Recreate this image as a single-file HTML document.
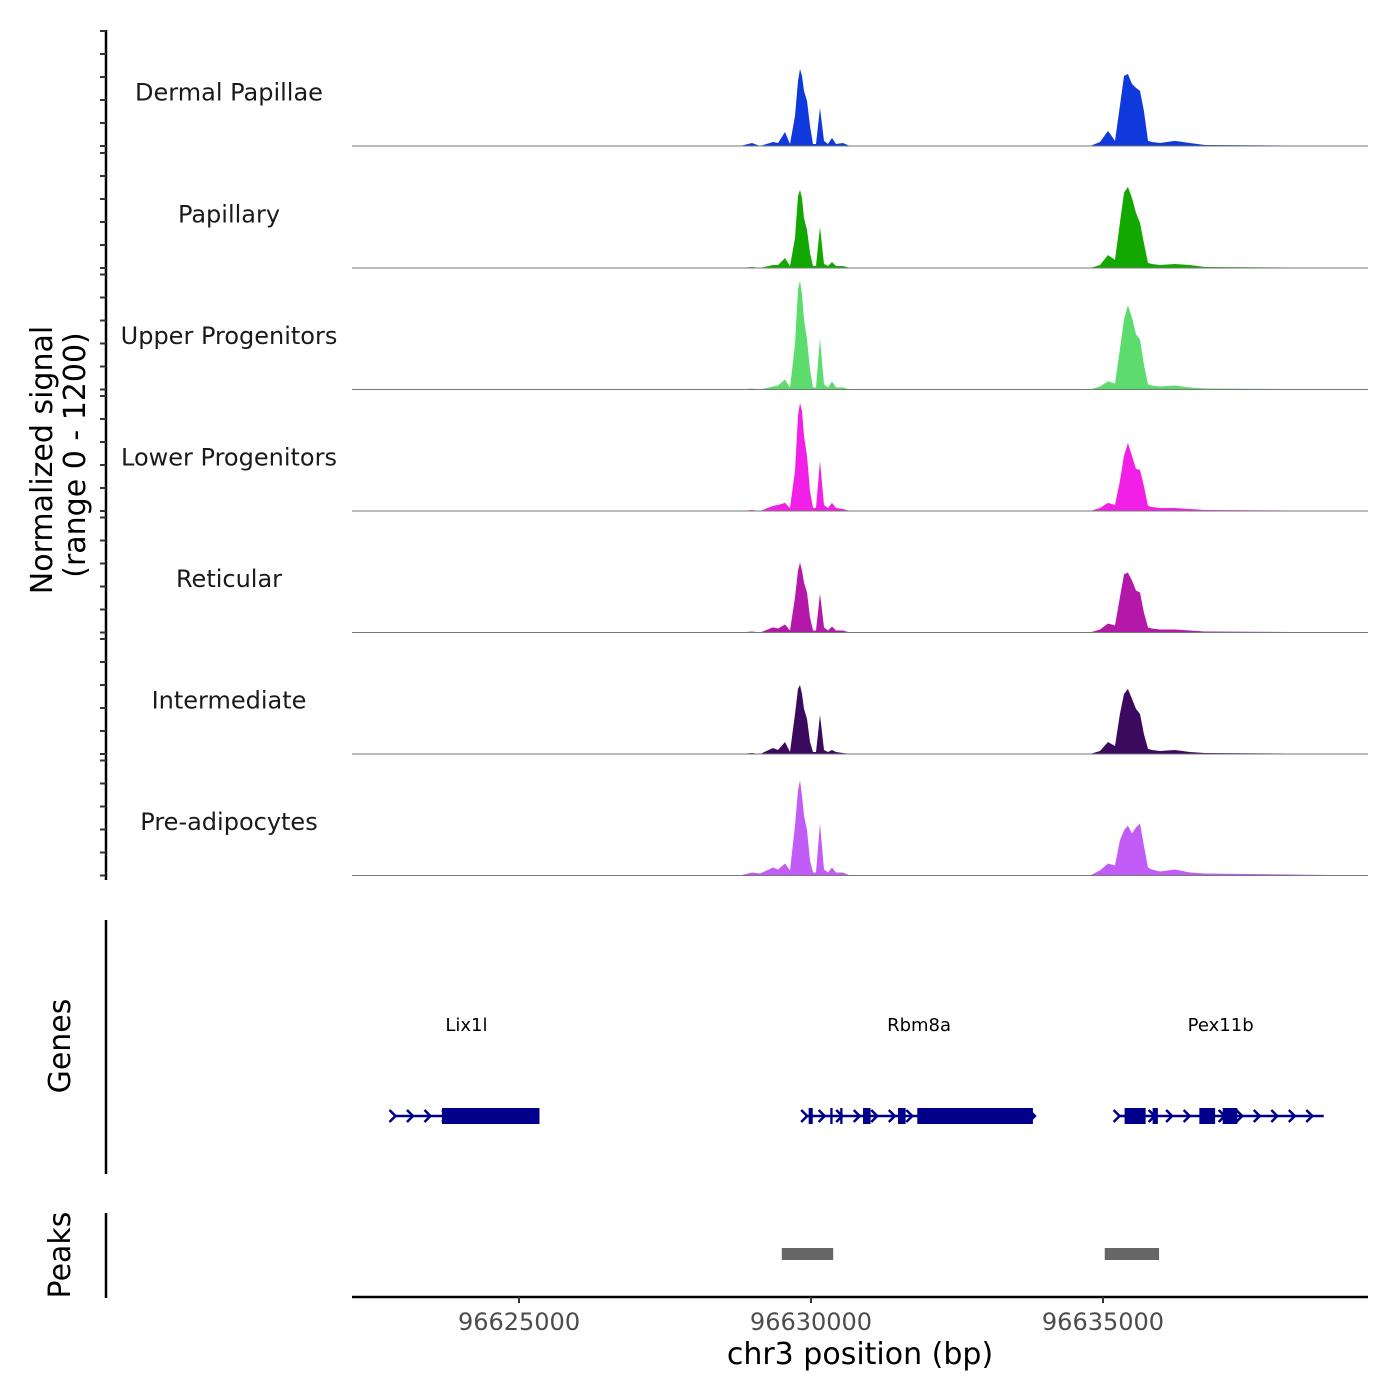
<!DOCTYPE html>
<html><head><meta charset="utf-8">
<style>
html,body{margin:0;padding:0;background:#fff;}
svg{display:block;font-family:"DejaVu Sans","Liberation Sans",sans-serif;}
</style></head>
<body>
<svg id="chart" width="1400" height="1400" viewBox="0 0 1400 1400" xmlns="http://www.w3.org/2000/svg"></svg>
<script>
const positions=[96622140,96628784,96628989,96629126,96629349,96629434,96629554,96629640,96629726,96629777,96629811,96629845,96629880,96629931,96629982,96630034,96630085,96630154,96630222,96630291,96630359,96630428,96630547,96630667,96634777,96634948,96635085,96635205,96635290,96635359,96635427,96635496,96635565,96635633,96635701,96635770,96635838,96635975,96636232,96636489,96636746,96639538];
const trackNames=["Dermal Papillae","Papillary","Upper Progenitors","Lower Progenitors","Reticular","Intermediate","Pre-adipocytes"];
const trackColors=["#1039dd","#12a800","#5cdc6c","#f21fe6","#b418a8","#3b0a5f","#c15cf6"];
const dermalPapillae=[0,0,26,0,35,26,122,17,261,566,670,609,479,392,174,17,17,331,44,17,70,17,26,0,0,35,131,44,348,609,626,539,505,479,305,44,35,26,44,26,9,0];
const papillary=[0,0,9,0,26,26,87,17,261,626,679,609,435,331,131,17,17,357,35,17,52,17,17,0,0,26,113,70,392,653,705,609,479,392,218,44,35,26,35,26,9,0];
const upperProgenitors=[0,0,9,0,26,35,87,17,392,870,948,827,609,435,174,17,17,444,44,17,70,17,17,0,0,26,70,52,348,609,731,626,479,435,218,44,35,26,35,17,9,0];
const lowerProgenitors=[0,0,9,0,44,52,70,26,348,827,940,870,653,479,174,26,26,435,52,26,70,26,17,0,0,26,70,52,261,479,592,479,365,357,218,44,35,26,26,17,9,0];
const reticular=[0,0,9,0,44,35,70,17,305,539,609,539,435,348,131,17,17,339,44,17,52,17,17,0,0,26,78,61,305,505,522,452,365,348,174,44,35,26,26,17,9,0];
const intermediate=[0,0,9,0,52,35,104,17,348,566,600,522,392,305,104,17,17,339,35,17,35,17,9,0,0,26,104,70,348,522,566,479,392,348,174,44,35,26,35,17,9,0];
const preAdipocytes=[0,0,26,17,70,52,104,44,435,740,827,696,522,392,131,26,26,452,52,26,70,26,26,0,0,44,104,87,305,392,435,365,418,452,261,70,52,35,52,26,17,0];
const trackValues=[dermalPapillae,papillary,upperProgenitors,lowerProgenitors,reticular,intermediate,preAdipocytes];
const xTicks=[96625000,96630000,96635000];
const yTickValues=[0,200,400,600,800,1000];
const genes=[{name:"Lix1l",start:96622850,end:96625350,exons:[[96623680,96625350]]},
{name:"Rbm8a",start:96629900,end:96633800,exons:[[96629960,96630030],[96630330,96630370],[96630500,96630540],[96630890,96631020],[96631490,96631620],[96631820,96633800]]},
{name:"Pex11b",start:96635250,end:96638780,exons:[[96635370,96635730],[96635850,96635940],[96636650,96636920],[96637050,96637300]]}];
const peaks=[[96629500,96630380],[96635030,96635960]];

const svg=document.getElementById('chart');
const NS="http://www.w3.org/2000/svg";
const X0=352,X1=1368,BP0=96622140,BP1=96639538;
function xs(bp){return X0+(bp-BP0)/(BP1-BP0)*(X1-X0);}
const PXPER=23/200;
function mk(tag,attrs,parent){const e=document.createElementNS(NS,tag);for(const k in attrs)e.setAttribute(k,attrs[k]);(parent||svg).appendChild(e);return e;}
const baselines=[146,268,389.5,511,632.5,754,875.5];
function ys(v,b){return b-v*PXPER;}

let ax=mk('line',{x1:106,y1:30,x2:106,y2:880,stroke:'#000','stroke-width':2.5});


baselines.forEach((b,ti)=>{
  yTickValues.forEach(v=>{
    const t=mk('line',{x1:100,x2:106,y1:ys(v,b),y2:ys(v,b),stroke:'#333','stroke-width':2});
    
    
  });
  const vals=trackValues[ti];
  let d='M'+xs(positions[0])+','+b;
  positions.forEach((p,i)=>{d+=' L'+xs(p).toFixed(1)+','+ys(vals[i],b).toFixed(1);});
  d+=' L'+xs(positions[positions.length-1])+','+b+' Z';
  const area=mk('path',{d:d,fill:trackColors[ti]});
  
  
  const bl=mk('line',{x1:X0,x2:X1,y1:b,y2:b,stroke:'#777','stroke-width':1});
  
  
  const lab=mk('text',{x:229,y:b-45.5,'text-anchor':'middle','font-size':24,fill:'#1a1a1a'});
  lab.textContent=trackNames[ti];
  
  
});
let yt=mk('text',{transform:'translate(52,460) rotate(-90)','text-anchor':'middle','font-size':30,fill:'#000'});
yt.textContent='Normalized signal';


let yt2=mk('text',{transform:'translate(85,455) rotate(-90)','text-anchor':'middle','font-size':30,fill:'#000'});
yt2.textContent='(range 0 - 1200)';



let ga=mk('line',{x1:106,y1:920,x2:106,y2:1174,stroke:'#000','stroke-width':2.5});


let gt=mk('text',{transform:'translate(70,1046) rotate(-90)','text-anchor':'middle','font-size':30,fill:'#000'});
gt.textContent='Genes';


const GY=1116,GC='#00008b';
genes.forEach(g=>{
  const grp=mk('g',{});
  
  
  mk('line',{x1:xs(g.start),x2:xs(g.end),y1:GY,y2:GY,stroke:GC,'stroke-width':2.5},grp);
  for(let p=g.start;p<=g.end;p+=300){
    const x=xs(p);
    mk('polyline',{points:(x-4)+','+(GY-6)+' '+(x+2)+','+GY+' '+(x-4)+','+(GY+6),fill:'none',stroke:GC,'stroke-width':2.5},grp);
  }
  g.exons.forEach(e=>{mk('rect',{x:xs(e[0]),y:GY-8,width:Math.max(2,xs(e[1])-xs(e[0])),height:16,fill:GC},grp);});
  const t=mk('text',{x:(xs(g.start)+xs(g.end))/2,y:1031,'text-anchor':'middle','font-size':18,fill:'#000'},grp);
  t.textContent=g.name;
});

let pa=mk('line',{x1:106,y1:1213,x2:106,y2:1298,stroke:'#000','stroke-width':2.5});


let pt=mk('text',{transform:'translate(70,1255) rotate(-90)','text-anchor':'middle','font-size':30,fill:'#000'});
pt.textContent='Peaks';


peaks.forEach(p=>{
  const r=mk('rect',{x:xs(p[0]),y:1248,width:xs(p[1])-xs(p[0]),height:12,fill:'#666'});
  
  
});

let xa=mk('line',{x1:X0,x2:X1,y1:1297,y2:1297,stroke:'#000','stroke-width':2.5});


xTicks.forEach(v=>{
  const t=mk('line',{x1:xs(v),x2:xs(v),y1:1297,y2:1303,stroke:'#333','stroke-width':2});
  
  
  const l=mk('text',{x:xs(v),y:1330,'text-anchor':'middle','font-size':24,fill:'#4d4d4d'});
  l.textContent=v;
  
  
});
let xt=mk('text',{x:860,y:1364,'text-anchor':'middle','font-size':30,fill:'#000'});
xt.textContent='chr3 position (bp)';


</script>
</body></html>
